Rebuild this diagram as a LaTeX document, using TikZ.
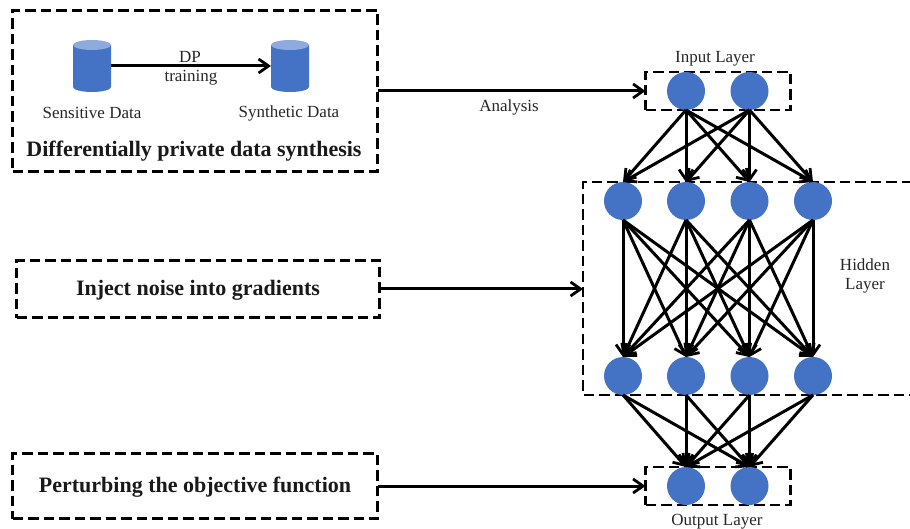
\documentclass[tikz,border=0pt]{standalone}
\usepackage{fontspec}
\setmainfont{Liberation Serif}
\usetikzlibrary{arrows.meta}
\definecolor{nodeblue}{HTML}{4472C4}
\definecolor{toplight}{HTML}{8FAADC}
\newcommand{\lowertext}[1]{\raisebox{-1.5pt}[\height][\depth]{#1}}
\tikzset{
  x=1pt,y=-1pt,
  dashbox/.style={draw=black,line width=2.7pt,dash pattern=on 10.5pt off 5pt,rectangle,inner sep=0pt,outer sep=0pt},
  neuron/.style={circle,fill=nodeblue,draw=none,minimum size=38pt,inner sep=0pt,outer sep=0pt},
  db/.style={rectangle,draw=none,minimum width=38pt,minimum height=52pt,inner sep=0pt,outer sep=0pt},
  conn/.style={draw=black,line width=3pt,-{Straight Barb[length=10pt,width=14pt,line width=2.8pt]}},
  small/.style={font=\fontsize{17}{19}\selectfont,inner sep=0pt,text=black!85},
  big/.style={font=\bfseries\fontsize{22}{24}\selectfont,inner sep=0pt,text=black!90}
}
\begin{document}
\begin{tikzpicture}
\useasboundingbox (0,0) rectangle (910,529);
% dashed frames
\node[dashbox,minimum width=365pt,minimum height=161pt] (topbox) at (195,91) {};
\node[dashbox,big,minimum width=363pt,minimum height=57pt] (noisebox) at (198,289) {\lowertext{Inject noise into gradients}};
\node[dashbox,big,minimum width=365pt,minimum height=65pt] (objbox) at (195,486) {\lowertext{Perturbing the objective function}};
\node[dashbox,minimum width=145pt,minimum height=38pt] (inbox) at (718,91) {};
\node[dashbox,minimum width=145pt,minimum height=38pt] (outbox) at (718,486) {};
\coordinate (hidw) at (583,289);
\draw[draw=black,line width=2.7pt,dash pattern=on 10.5pt off 5pt] (912,182) -- (583,182) -- (583,395) -- (912,395);
% databases
\foreach \nm/\cx in {sens/92,synt/290}{
  \node[db] (\nm) at (\cx,66) {};
  \fill[nodeblue] (\cx-19,45) -- (\cx-19,87) arc[start angle=180,end angle=360,x radius=19pt,y radius=5pt] -- (\cx+19,45) -- cycle;
  \fill[toplight] (\cx,45) ellipse[x radius=19pt,y radius=5pt];
}
\node[small] (lsens) at (92,113) {Sensitive Data};
\node[small] (lsynt) at (289,113) {Synthetic Data};
\node[small] (ldp) at (190,57) {DP};
\node[small] (ltr) at (191,78) {training};
\node[big] (ldiff) at (194,151.5) {Differentially private data synthesis};
\draw[conn] (sens.east) -- (synt.west);
% neurons
\node[neuron] (i1) at (686,91) {};
\node[neuron] (i2) at (749.5,91) {};
\foreach \n/\x in {1/623,2/686,3/749.5,4/813}{
  \node[neuron] (a\n) at (\x,201) {};
  \node[neuron] (b\n) at (\x,376) {};
}
\node[neuron] (o1) at (686,486) {};
\node[neuron] (o2) at (749.5,486) {};
% labels
\node[small] (linp) at (715,59) {Input Layer};
\node[small] (lout) at (717,522) {Output Layer};
\node[small] (lhid) at (865,265) {Hidden};
\node[small] (llay) at (865,286) {Layer};
\node[small] (lana) at (509,107) {Analysis};
% connectors
\draw[conn] (topbox.east |- inbox.west) -- (inbox.west);
\draw[conn] (noisebox.east) -- (hidw);
\draw[conn] (objbox.east) -- (outbox.west);
\foreach \s in {1,2}\foreach \t in {1,2,3,4}{\draw[conn] (i\s.south) -- (a\t.north);}
\foreach \s in {1,2,3,4}\foreach \t in {1,2,3,4}{\draw[conn] (a\s.south) -- (b\t.north);}
\foreach \s in {1,2,3,4}\foreach \t in {1,2}{\draw[conn] (b\s.south) -- (o\t.north);}
\end{tikzpicture}
\end{document}
